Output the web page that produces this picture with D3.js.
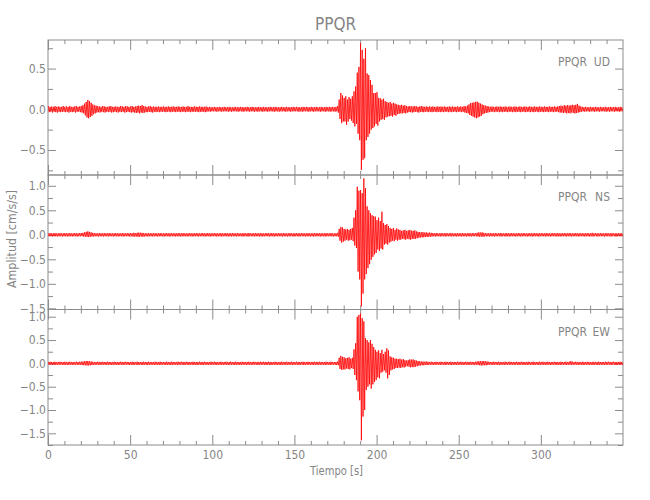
<!DOCTYPE html>
<html>
<head>
<meta charset="utf-8">
<script src="https://cdn.jsdelivr.net/npm/d3@7"></script>
<style>
body{margin:0;background:#fff;}
svg text{font-family:"Liberation Sans Narrow","DejaVu Sans Condensed","Roboto Condensed",sans-serif;fill:#858585;}
</style>
</head>
<body>
<svg id="chart" width="650" height="500"></svg>
<script>
// ---------------- DATA ----------------
const chartTitle = "PPQR";
const stationName = "PPQR";
const components = ["UD", "NS", "EW"];
const xLabel = "Tiempo [s]";
const yLabel = "Amplitud [cm/s/s]";
const timeDomain = [0, 350];          // seconds
const binWidth = 1;                   // seconds per envelope bin
const xTickValues = [0, 50, 100, 150, 200, 250, 300];
const xMinorStep = 10;
const yDomainUD = [-0.807, 0.851];
const yDomainNS = [-1.524, 1.22];
const yDomainEW = [-1.75, 1.155];
const yLabelStep = 0.5;
const yMinorStep = 0.25;

// per-second envelope (max / min) of each component, cm/s/s
const udHi = [
.04,.03,.035,.03,.04,.03,.035,.03,.03,.04,
.03,.035,.03,.04,.03,.03,.035,.04,.03,.035,
.04,.05,.07,.09,.115,.1,.08,.06,.05,.045,
.04,.035,.03,.04,.035,.03,.03,.035,.04,.03,
.03,.035,.03,.03,.04,.035,.03,.04,.035,.03,
.035,.04,.03,.035,.04,.045,.04,.053,.04,.035,
.03,.035,.04,.03,.035,.03,.03,.035,.03,.03,
.035,.03,.03,.035,.03,.03,.035,.03,.03,.035,
.03,.03,.035,.03,.03,.04,.03,.03,.03,.035,
.03,.03,.035,.03,.03,.03,.035,.025,.03,.025,
.025,.03,.025,.025,.03,.025,.025,.03,.025,.025,
.03,.025,.025,.025,.03,.025,.025,.03,.025,.025,
.025,.03,.025,.025,.03,.025,.025,.025,.03,.025,
.025,.03,.025,.025,.025,.03,.025,.025,.03,.025,
.025,.025,.03,.025,.025,.03,.025,.025,.025,.03,
.025,.03,.025,.025,.025,.03,.025,.03,.025,.025,
.03,.025,.025,.03,.025,.025,.03,.025,.025,.03,
.025,.03,.025,.03,.025,.03,.04,.12,.2,.17,
.14,.16,.12,.15,.13,.16,.22,.28,.45,.52,
.81,.73,.62,.75,.44,.42,.36,.3,.2,.2,
.21,.14,.135,.12,.13,.1,.09,.08,.09,.07,
.08,.07,.06,.055,.05,.055,.045,.05,.04,.035,
.04,.035,.035,.04,.035,.03,.035,.04,.035,.03,
.035,.03,.035,.03,.035,.03,.03,.035,.03,.035,
.03,.035,.03,.03,.035,.03,.035,.03,.03,.035,
.03,.035,.03,.04,.035,.045,.06,.075,.08,.085,
.09,.094,.08,.07,.06,.05,.045,.04,.035,.03,
.035,.03,.03,.035,.03,.035,.03,.03,.035,.03,
.03,.035,.03,.03,.035,.03,.03,.035,.03,.03,
.035,.03,.03,.035,.03,.03,.035,.03,.03,.035,
.03,.03,.035,.03,.03,.035,.03,.03,.035,.03,
.035,.04,.045,.04,.05,.045,.05,.045,.05,.055,
.05,.055,.066,.045,.035,.03,.025,.03,.025,.025,
.03,.025,.025,.03,.025,.025,.03,.025,.025,.03,
.025,.025,.03,.025,.025,.03,.025,.025,.03,.025
];
const udLo = [
-.035,-.03,-.04,-.03,-.035,-.04,-.03,-.035,-.03,-.03,
-.035,-.03,-.04,-.03,-.035,-.03,-.04,-.03,-.03,-.035,
-.04,-.05,-.075,-.1,-.11,-.095,-.08,-.06,-.05,-.04,
-.035,-.04,-.03,-.035,-.04,-.03,-.035,-.03,-.04,-.035,
-.03,-.035,-.04,-.03,-.035,-.03,-.04,-.035,-.03,-.035,
-.04,-.035,-.04,-.045,-.04,-.05,-.04,-.045,-.04,-.035,
-.035,-.03,-.035,-.04,-.03,-.035,-.03,-.035,-.03,-.03,
-.03,-.035,-.03,-.03,-.035,-.03,-.03,-.035,-.03,-.03,
-.035,-.03,-.03,-.035,-.03,-.03,-.035,-.03,-.03,-.03,
-.03,-.035,-.03,-.03,-.03,-.035,-.03,-.025,-.03,-.025,
-.025,-.025,-.03,-.025,-.025,-.03,-.025,-.025,-.025,-.03,
-.025,-.03,-.025,-.025,-.025,-.03,-.025,-.025,-.03,-.025,
-.025,-.025,-.03,-.025,-.025,-.03,-.025,-.03,-.025,-.025,
-.03,-.025,-.025,-.03,-.025,-.025,-.025,-.03,-.025,-.025,
-.03,-.025,-.025,-.025,-.03,-.025,-.025,-.03,-.025,-.025,
-.025,-.025,-.03,-.025,-.03,-.025,-.025,-.025,-.03,-.025,
-.025,-.03,-.025,-.025,-.025,-.03,-.025,-.025,-.03,-.025,
-.025,-.03,-.025,-.025,-.03,-.025,-.04,-.12,-.17,-.15,
-.15,-.19,-.15,-.12,-.14,-.17,-.21,-.18,-.3,-.38,
-.745,-.62,-.6,-.38,-.34,-.3,-.25,-.23,-.21,-.18,
-.2,-.15,-.13,-.12,-.13,-.1,-.09,-.085,-.08,-.09,
-.07,-.08,-.06,-.055,-.05,-.05,-.045,-.05,-.04,-.035,
-.035,-.04,-.035,-.03,-.035,-.04,-.03,-.035,-.035,-.03,
-.03,-.035,-.03,-.035,-.03,-.03,-.035,-.03,-.035,-.03,
-.035,-.03,-.03,-.035,-.03,-.035,-.03,-.03,-.035,-.03,
-.03,-.035,-.03,-.04,-.045,-.05,-.07,-.08,-.09,-.1,
-.11,-.1,-.09,-.08,-.06,-.05,-.045,-.04,-.035,-.03,
-.03,-.035,-.03,-.03,-.035,-.03,-.035,-.03,-.03,-.035,
-.03,-.03,-.035,-.03,-.035,-.03,-.03,-.035,-.03,-.03,
-.035,-.03,-.03,-.035,-.03,-.035,-.03,-.03,-.035,-.03,
-.03,-.035,-.03,-.03,-.035,-.03,-.03,-.035,-.03,-.03,
-.035,-.04,-.04,-.045,-.04,-.05,-.045,-.05,-.04,-.045,
-.05,-.045,-.04,-.035,-.03,-.025,-.03,-.025,-.025,-.03,
-.025,-.025,-.03,-.025,-.025,-.03,-.025,-.025,-.025,-.03,
-.025,-.03,-.025,-.025,-.03,-.025,-.025,-.03,-.025,-.025
];
const nsHi = [
.03,.035,.03,.03,.035,.03,.03,.035,.03,.03,
.035,.03,.03,.035,.03,.03,.035,.03,.03,.035,
.035,.04,.05,.06,.07,.06,.05,.04,.035,.03,
.03,.035,.03,.03,.035,.03,.03,.035,.03,.03,
.03,.035,.03,.03,.03,.035,.03,.03,.035,.03,
.035,.03,.04,.035,.04,.045,.04,.04,.035,.03,
.03,.035,.03,.03,.035,.03,.03,.03,.035,.03,
.03,.03,.035,.03,.03,.035,.03,.03,.03,.035,
.03,.03,.035,.03,.03,.03,.035,.03,.03,.03,
.035,.03,.03,.03,.035,.03,.03,.035,.03,.03,
.03,.035,.03,.03,.03,.035,.03,.03,.035,.03,
.03,.03,.035,.03,.03,.035,.03,.03,.03,.035,
.03,.03,.035,.03,.03,.03,.035,.03,.03,.035,
.03,.03,.03,.035,.03,.03,.035,.03,.03,.03,
.035,.03,.03,.035,.03,.03,.03,.035,.03,.03,
.03,.035,.03,.03,.035,.03,.03,.03,.035,.03,
.03,.03,.035,.03,.03,.035,.03,.03,.03,.035,
.03,.03,.035,.03,.03,.03,.04,.12,.16,.15,
.12,.11,.12,.1,.12,.14,.35,.5,.98,.9,
.91,.85,1.15,.95,.58,.5,.44,.4,.38,.37,
.3,.35,.28,.47,.24,.2,.22,.18,.14,.12,
.14,.1,.13,.11,.1,.08,.09,.1,.08,.09,
.1,.085,.08,.09,.07,.06,.055,.05,.055,.045,
.05,.04,.045,.04,.035,.03,.035,.03,.03,.035,
.03,.03,.035,.03,.03,.035,.03,.03,.03,.035,
.03,.03,.035,.03,.03,.03,.035,.03,.035,.03,
.035,.04,.05,.045,.05,.04,.035,.03,.03,.035,
.03,.03,.035,.03,.03,.035,.03,.03,.03,.035,
.03,.03,.035,.03,.03,.03,.035,.03,.03,.035,
.03,.03,.03,.035,.03,.03,.035,.03,.03,.03,
.035,.03,.03,.035,.03,.03,.03,.035,.03,.03,
.035,.03,.03,.03,.035,.03,.03,.035,.03,.03,
.03,.035,.03,.03,.035,.03,.03,.03,.035,.03,
.03,.04,.03,.035,.03,.03,.035,.03,.03,.03,
.035,.03,.03,.035,.03,.03,.03,.035,.03,.03
];
const nsLo = [
-.03,-.03,-.035,-.03,-.03,-.035,-.03,-.03,-.035,-.03,
-.03,-.035,-.03,-.03,-.035,-.03,-.03,-.035,-.03,-.03,
-.03,-.035,-.04,-.04,-.045,-.04,-.035,-.035,-.03,-.03,
-.035,-.03,-.03,-.035,-.03,-.03,-.035,-.03,-.03,-.035,
-.03,-.03,-.035,-.03,-.03,-.035,-.03,-.03,-.03,-.035,
-.03,-.035,-.04,-.035,-.04,-.04,-.035,-.04,-.035,-.03,
-.035,-.03,-.03,-.035,-.03,-.03,-.035,-.03,-.03,-.03,
-.035,-.03,-.03,-.035,-.03,-.03,-.03,-.035,-.03,-.03,
-.035,-.03,-.03,-.03,-.035,-.03,-.03,-.035,-.03,-.03,
-.03,-.035,-.03,-.03,-.03,-.035,-.03,-.03,-.035,-.03,
-.03,-.03,-.035,-.03,-.03,-.035,-.03,-.03,-.03,-.035,
-.03,-.035,-.03,-.03,-.035,-.03,-.03,-.03,-.035,-.03,
-.03,-.035,-.03,-.03,-.03,-.035,-.03,-.03,-.035,-.03,
-.035,-.03,-.03,-.03,-.035,-.03,-.03,-.035,-.03,-.03,
-.03,-.03,-.035,-.03,-.03,-.035,-.03,-.03,-.03,-.035,
-.03,-.03,-.035,-.03,-.03,-.03,-.035,-.03,-.03,-.035,
-.03,-.035,-.03,-.03,-.03,-.035,-.03,-.03,-.035,-.03,
-.03,-.03,-.03,-.035,-.03,-.03,-.04,-.12,-.16,-.14,
-.12,-.1,-.12,-.11,-.1,-.13,-.22,-.27,-.75,-.91,
-1.46,-1.2,-.91,-.8,-.68,-.6,-.51,-.45,-.4,-.37,
-.3,-.33,-.28,-.3,-.2,-.18,-.2,-.16,-.14,-.12,
-.13,-.1,-.12,-.1,-.1,-.08,-.09,-.1,-.08,-.09,
-.1,-.08,-.085,-.08,-.07,-.06,-.055,-.05,-.05,-.045,
-.045,-.04,-.04,-.035,-.03,-.035,-.03,-.03,-.035,-.03,
-.03,-.035,-.03,-.03,-.03,-.035,-.03,-.03,-.035,-.03,
-.03,-.035,-.03,-.03,-.035,-.03,-.03,-.035,-.03,-.03,
-.03,-.035,-.04,-.035,-.04,-.035,-.03,-.03,-.035,-.03,
-.03,-.035,-.03,-.03,-.03,-.035,-.03,-.03,-.035,-.03,
-.035,-.03,-.03,-.03,-.035,-.03,-.03,-.035,-.03,-.03,
-.03,-.035,-.03,-.03,-.035,-.03,-.03,-.03,-.035,-.03,
-.03,-.03,-.035,-.03,-.03,-.035,-.03,-.03,-.03,-.035,
-.03,-.035,-.03,-.03,-.03,-.035,-.03,-.03,-.035,-.03,
-.03,-.03,-.035,-.03,-.03,-.03,-.035,-.03,-.03,-.035,
-.03,-.035,-.03,-.03,-.035,-.03,-.03,-.03,-.035,-.03,
-.03,-.03,-.035,-.03,-.03,-.035,-.03,-.03,-.03,-.035
];
const ewHi = [
.03,.035,.03,.03,.035,.03,.03,.035,.03,.03,
.035,.03,.03,.035,.03,.03,.03,.035,.03,.035,
.035,.04,.045,.05,.05,.045,.04,.035,.03,.03,
.035,.03,.03,.035,.03,.03,.035,.03,.03,.03,
.035,.03,.03,.03,.035,.03,.03,.035,.03,.03,
.03,.035,.03,.03,.035,.03,.03,.03,.035,.03,
.03,.035,.03,.03,.03,.035,.03,.03,.035,.03,
.03,.03,.035,.03,.03,.035,.03,.03,.03,.035,
.03,.035,.03,.03,.035,.03,.03,.03,.035,.03,
.03,.03,.035,.03,.03,.035,.03,.03,.03,.035,
.03,.035,.03,.03,.03,.035,.03,.03,.035,.03,
.03,.035,.03,.03,.035,.03,.03,.03,.035,.03,
.03,.03,.035,.03,.03,.035,.03,.03,.03,.035,
.03,.035,.03,.03,.035,.03,.03,.03,.035,.03,
.03,.03,.035,.03,.03,.035,.03,.03,.035,.03,
.03,.035,.03,.03,.03,.035,.03,.03,.035,.03,
.03,.03,.035,.03,.03,.035,.03,.03,.03,.035,
.03,.03,.035,.03,.03,.03,.04,.12,.16,.14,
.13,.11,.12,.13,.1,.12,.3,.43,1.0,1.04,
1.07,.97,.9,.54,.5,.45,.5,.42,.35,.29,
.25,.28,.22,.29,.2,.25,.32,.28,.15,.13,
.12,.1,.1,.09,.1,.08,.09,.07,.06,.07,
.085,.08,.085,.07,.06,.05,.045,.04,.04,.035,
.04,.035,.03,.035,.03,.03,.035,.03,.03,.035,
.03,.03,.035,.03,.03,.035,.03,.03,.03,.035,
.03,.035,.03,.03,.035,.03,.03,.035,.03,.03,
.035,.04,.045,.05,.045,.05,.045,.04,.035,.03,
.03,.035,.03,.03,.035,.03,.03,.03,.035,.03,
.03,.035,.03,.03,.03,.035,.03,.03,.035,.03,
.03,.03,.035,.03,.03,.035,.03,.03,.03,.035,
.03,.035,.03,.03,.035,.03,.03,.03,.035,.03,
.03,.03,.035,.03,.03,.035,.03,.035,.05,.035,
.03,.035,.03,.03,.03,.035,.03,.03,.035,.03,
.03,.03,.035,.03,.03,.035,.03,.03,.03,.035,
.03,.035,.03,.03,.035,.03,.03,.03,.035,.03
];
const ewLo = [
-.03,-.03,-.035,-.03,-.03,-.035,-.03,-.03,-.03,-.035,
-.03,-.035,-.03,-.03,-.035,-.03,-.03,-.03,-.035,-.03,
-.035,-.04,-.04,-.045,-.045,-.04,-.035,-.035,-.03,-.03,
-.03,-.035,-.03,-.03,-.03,-.035,-.03,-.03,-.035,-.03,
-.03,-.03,-.035,-.03,-.03,-.035,-.03,-.03,-.03,-.035,
-.03,-.035,-.03,-.03,-.035,-.03,-.03,-.035,-.03,-.03,
-.035,-.03,-.03,-.03,-.035,-.03,-.03,-.035,-.03,-.03,
-.03,-.035,-.03,-.03,-.035,-.03,-.03,-.03,-.035,-.03,
-.03,-.03,-.035,-.03,-.03,-.035,-.03,-.03,-.035,-.03,
-.035,-.03,-.03,-.035,-.03,-.03,-.03,-.035,-.03,-.03,
-.03,-.03,-.035,-.03,-.03,-.03,-.035,-.03,-.03,-.035,
-.03,-.03,-.03,-.035,-.03,-.03,-.035,-.03,-.03,-.03,
-.035,-.03,-.03,-.035,-.03,-.03,-.03,-.035,-.03,-.03,
-.03,-.03,-.035,-.03,-.03,-.035,-.03,-.03,-.03,-.035,
-.03,-.035,-.03,-.03,-.03,-.035,-.03,-.03,-.035,-.03,
-.03,-.03,-.035,-.03,-.03,-.035,-.03,-.03,-.03,-.035,
-.03,-.035,-.03,-.03,-.035,-.03,-.03,-.03,-.035,-.03,
-.03,-.035,-.03,-.03,-.03,-.035,-.04,-.12,-.14,-.13,
-.13,-.11,-.12,-.13,-.1,-.12,-.25,-.36,-.6,-.79,
-1.65,-1.14,-1.0,-.57,-.5,-.45,-.54,-.45,-.4,-.36,
-.3,-.32,-.2,-.18,-.15,-.2,-.32,-.25,-.15,-.13,
-.12,-.1,-.1,-.09,-.1,-.08,-.09,-.07,-.06,-.07,
-.085,-.08,-.08,-.07,-.06,-.05,-.045,-.04,-.04,-.035,
-.035,-.035,-.03,-.03,-.035,-.03,-.03,-.03,-.035,-.03,
-.03,-.035,-.03,-.03,-.03,-.035,-.03,-.03,-.035,-.03,
-.03,-.03,-.035,-.03,-.03,-.035,-.03,-.03,-.03,-.035,
-.03,-.035,-.04,-.045,-.04,-.04,-.04,-.035,-.03,-.03,
-.035,-.03,-.03,-.03,-.035,-.03,-.03,-.035,-.03,-.03,
-.03,-.03,-.035,-.03,-.03,-.03,-.035,-.03,-.03,-.035,
-.03,-.035,-.03,-.03,-.03,-.035,-.03,-.03,-.035,-.03,
-.03,-.03,-.035,-.03,-.03,-.035,-.03,-.03,-.03,-.035,
-.03,-.035,-.03,-.03,-.03,-.035,-.03,-.03,-.035,-.03,
-.03,-.03,-.035,-.03,-.03,-.035,-.03,-.03,-.03,-.035,
-.03,-.035,-.03,-.03,-.035,-.03,-.03,-.03,-.035,-.03,
-.03,-.03,-.035,-.03,-.03,-.035,-.03,-.03,-.03,-.035
];

// ---------------- LAYOUT ----------------
const svg = d3.select("#chart");
const plotLeft = 48, plotRight = 623;
const panelTops = [40, 175, 309.5];
const panelBottoms = [175, 309.5, 445];
const axisColor = "#8c8c8c";
const traceColor = "#ff0000";

const panels = [
  {comp: components[0], hi: udHi, lo: udLo, domain: yDomainUD},
  {comp: components[1], hi: nsHi, lo: nsLo, domain: yDomainNS},
  {comp: components[2], hi: ewHi, lo: ewLo, domain: yDomainEW}
];

const x = d3.scaleLinear().domain(timeDomain).range([plotLeft, plotRight]);
const xMinor = d3.range(timeDomain[0], timeDomain[1] + 0.001, xMinorStep).filter(v => v % 50 !== 0);

function styleAxis(g, labels) {
  g.select(".domain").remove();
  g.selectAll(".tick line").attr("stroke", axisColor).attr("stroke-width", 1);
  if (labels) {
    g.selectAll(".tick text").attr("fill", "#858585").style("font-size", "12px")
      .style("font-family", '"Liberation Sans Narrow","DejaVu Sans Condensed",sans-serif');
  }
}

const fmt = d3.format(".1f");

panels.forEach((p, k) => {
  const top = panelTops[k], bottom = panelBottoms[k];
  const y = d3.scaleLinear().domain(p.domain).range([bottom, top]);
  const g = svg.append("g");

  const lo0 = Math.ceil(p.domain[0] / yMinorStep - 1e-6) * yMinorStep;
  const allY = d3.range(lo0, p.domain[1] + 1e-6, yMinorStep).map(v => +v.toFixed(2));
  const majorY = allY.filter(v => Math.abs(v / yLabelStep - Math.round(v / yLabelStep)) < 1e-6);
  const minorY = allY.filter(v => !majorY.includes(v));

  // x ticks bottom
  styleAxis(g.append("g").attr("transform", `translate(0,${bottom})`)
    .call(d3.axisBottom(x).tickValues(xMinor).tickSize(-4).tickFormat("")));
  styleAxis(g.append("g").attr("transform", `translate(0,${bottom})`)
    .call(d3.axisBottom(x).tickValues(xTickValues).tickSize(-10).tickPadding(5)
      .tickFormat(k === 2 ? d3.format("d") : "")), k === 2);
  // x ticks top
  styleAxis(g.append("g").attr("transform", `translate(0,${top})`)
    .call(d3.axisTop(x).tickValues(xMinor).tickSize(-4).tickFormat("")));
  styleAxis(g.append("g").attr("transform", `translate(0,${top})`)
    .call(d3.axisTop(x).tickValues(xTickValues).tickSize(-10).tickFormat("")));
  // y ticks left
  styleAxis(g.append("g").attr("transform", `translate(${plotLeft},0)`)
    .call(d3.axisLeft(y).tickValues(minorY).tickSize(-5).tickFormat("")));
  styleAxis(g.append("g").attr("transform", `translate(${plotLeft},0)`)
    .call(d3.axisLeft(y).tickValues(majorY).tickSize(-8).tickPadding(2).tickFormat(fmt)), true);
  // y ticks right
  styleAxis(g.append("g").attr("transform", `translate(${plotRight},0)`)
    .call(d3.axisRight(y).tickValues(minorY).tickSize(-5).tickFormat("")));
  styleAxis(g.append("g").attr("transform", `translate(${plotRight},0)`)
    .call(d3.axisRight(y).tickValues(majorY).tickSize(-8).tickFormat("")));

  // frame
  g.append("rect").attr("x", plotLeft).attr("y", top)
    .attr("width", plotRight - plotLeft).attr("height", bottom - top)
    .attr("fill", "none").attr("stroke", axisColor).attr("stroke-width", 1);

  // trace (envelope zig-zag per bin)
  const pts = [];
  p.hi.forEach((h, i) => {
    pts.push([timeDomain[0] + (i + 0.25) * binWidth, h]);
    pts.push([timeDomain[0] + (i + 0.75) * binWidth, p.lo[i]]);
  });
  g.append("path").datum(pts)
    .attr("d", d3.line().x(d => x(d[0])).y(d => y(d[1])))
    .attr("fill", "none").attr("stroke", traceColor)
    .attr("stroke-width", 0.8).attr("stroke-linejoin", "miter");

  // station / component label
  g.append("text").attr("x", 558).attr("y", top + 26)
    .style("font-size", "12px").text(stationName);
  g.append("text").attr("x", 610).attr("y", top + 26).attr("text-anchor", "end")
    .style("font-size", "12px").text(p.comp);
});

// title
svg.append("text").attr("x", (plotLeft + plotRight) / 2).attr("y", 30)
  .attr("text-anchor", "middle").style("font-size", "17px").text(chartTitle);
// x label
svg.append("text").attr("x", (plotLeft + plotRight) / 2 + 1).attr("y", 475)
  .attr("text-anchor", "middle").style("font-size", "13px")
  .attr("textLength", 53).attr("lengthAdjust", "spacingAndGlyphs").text(xLabel);
// y label
svg.append("text").attr("transform", "translate(16,239) rotate(-90)")
  .attr("text-anchor", "middle").style("font-size", "13px")
  .attr("textLength", 98).attr("lengthAdjust", "spacingAndGlyphs").text(yLabel);
</script>
</body>
</html>
